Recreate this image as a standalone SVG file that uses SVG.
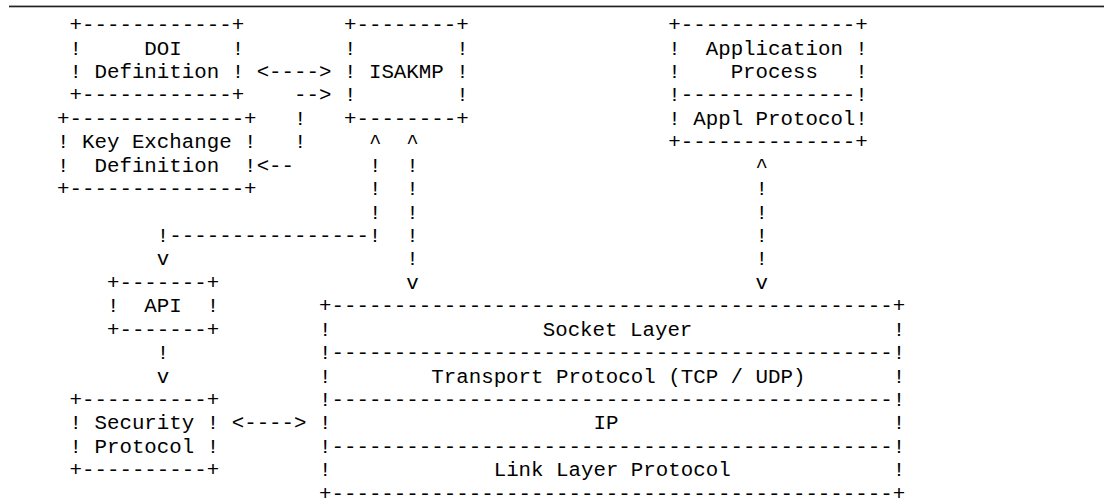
<svg xmlns="http://www.w3.org/2000/svg" width="1104" height="500" viewBox="0 0 1104 500" xml:space="preserve">
<style>
.t { font-family: "Liberation Mono", "Courier New", monospace; font-size: 20.79px; fill: #000; white-space: pre; }
</style>
<rect width="1104" height="500" fill="#fff"/>
<rect x="9" y="5.6" width="1095" height="1.7" fill="#222"/>
<g id="doi">
<text class="t" x="69.54" y="31.2">+------------+</text>
<text class="t" x="69.54" y="54.62">!     DOI    !</text>
<text class="t" x="69.54" y="78.04">! Definition !</text>
<text class="t" x="69.54" y="101.46">+------------+</text>
</g>
<g id="isakmp">
<text class="t" x="343.97" y="31.2">+--------+</text>
<text class="t" x="343.97" y="54.62">!        !</text>
<text class="t" x="343.97" y="78.04">! ISAKMP !</text>
<text class="t" x="343.97" y="101.46">!        !</text>
<text class="t" x="343.97" y="124.88">+--------+</text>
</g>
<g id="application">
<text class="t" x="668.29" y="31.2">+--------------+</text>
<text class="t" x="668.29" y="54.62">!  Application !</text>
<text class="t" x="668.29" y="78.04">!    Process   !</text>
<text class="t" x="668.29" y="101.46">!--------------!</text>
<text class="t" x="668.29" y="124.88">! Appl Protocol!</text>
<text class="t" x="668.29" y="148.3">+--------------+</text>
</g>
<g id="key-exchange">
<text class="t" x="57.07" y="124.88">+--------------+</text>
<text class="t" x="57.07" y="148.3">! Key Exchange !</text>
<text class="t" x="57.07" y="171.72">!  Definition  !</text>
<text class="t" x="57.07" y="195.14">+--------------+</text>
</g>
<g id="api">
<text class="t" x="106.96" y="288.82">+-------+</text>
<text class="t" x="106.96" y="312.24">!  API  !</text>
<text class="t" x="106.96" y="335.66">+-------+</text>
</g>
<g id="security-protocol">
<text class="t" x="69.54" y="405.92">+----------+</text>
<text class="t" x="69.54" y="429.34">! Security !</text>
<text class="t" x="69.54" y="452.76">! Protocol !</text>
<text class="t" x="69.54" y="476.18">+----------+</text>
</g>
<g id="protocol-stack">
<text class="t" x="319.02" y="312.24">+---------------------------------------------+</text>
<text class="t" x="319.02" y="335.66">!</text>
<text class="t" x="542.69" y="335.66">Socket Layer</text>
<text class="t" x="892.82" y="335.66">!</text>
<text class="t" x="319.02" y="359.08">!---------------------------------------------!</text>
<text class="t" x="319.02" y="382.5">!</text>
<text class="t" x="431.29" y="382.5">Transport Protocol (TCP / UDP)</text>
<text class="t" x="892.82" y="382.5">!</text>
<text class="t" x="319.02" y="405.92">!---------------------------------------------!</text>
<text class="t" x="319.02" y="429.34">!</text>
<text class="t" x="593.45" y="429.34">IP</text>
<text class="t" x="892.82" y="429.34">!</text>
<text class="t" x="319.02" y="452.76">!---------------------------------------------!</text>
<text class="t" x="319.02" y="476.18">!</text>
<text class="t" x="493.66" y="476.18">Link Layer Protocol</text>
<text class="t" x="892.82" y="476.18">!</text>
<text class="t" x="319.02" y="499.6">+---------------------------------------------+</text>
</g>
<g id="connectors">
<text class="t" x="256.65" y="78.04">&lt;----&gt;</text>
<text class="t" x="294.07" y="101.46">--&gt;</text>
<text class="t" x="294.07" y="124.88">!</text>
<text class="t" x="294.07" y="148.3">!</text>
<text class="t" x="368.92" y="148.3">^</text>
<text class="t" x="406.34" y="148.3">^</text>
<text class="t" x="256.65" y="171.72">&lt;--</text>
<text class="t" x="368.92" y="171.72">!</text>
<text class="t" x="406.34" y="171.72">!</text>
<text class="t" x="755.61" y="171.72">^</text>
<text class="t" x="368.92" y="195.14">!</text>
<text class="t" x="406.34" y="195.14">!</text>
<text class="t" x="755.61" y="195.14">!</text>
<text class="t" x="368.92" y="218.56">!</text>
<text class="t" x="406.34" y="218.56">!</text>
<text class="t" x="755.61" y="218.56">!</text>
<text class="t" x="156.86" y="241.98">!----------------!</text>
<text class="t" x="406.34" y="241.98">!</text>
<text class="t" x="755.61" y="241.98">!</text>
<text class="t" x="156.86" y="265.4">v</text>
<text class="t" x="406.34" y="265.4">!</text>
<text class="t" x="755.61" y="265.4">!</text>
<text class="t" x="406.34" y="288.82">v</text>
<text class="t" x="755.61" y="288.82">v</text>
<text class="t" x="156.86" y="359.08">!</text>
<text class="t" x="156.86" y="382.5">v</text>
<text class="t" x="231.7" y="429.34">&lt;----&gt;</text>
</g>
</svg>
